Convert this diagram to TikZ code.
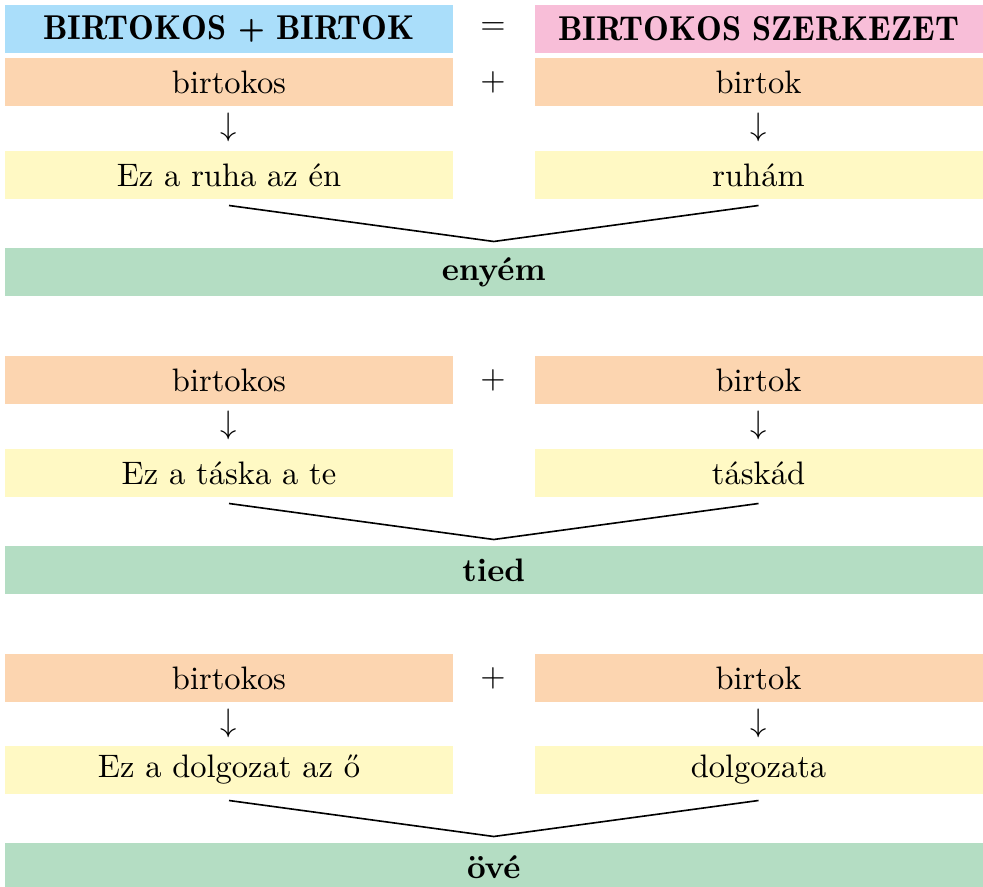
\documentclass[tikz,border=0pt]{standalone}
\usepackage{xcolor}

\definecolor{fejkek}{RGB}{170,222,250}
\definecolor{fejrozsa}{RGB}{248,190,216}
\definecolor{narancs}{RGB}{252,213,176}
\definecolor{sarga}{RGB}{255,249,196}
\definecolor{zold}{RGB}{180,221,195}

\begin{document}
\begin{tikzpicture}[x=0.3077pt, y=-0.3077pt,
    doboz/.style={minimum width=137.85pt, minimum height=14.77pt, inner sep=0pt, outer sep=2pt},
    fej/.style={doboz, font=\fontsize{10.6}{12}\fontseries{b}\selectfont},
    szeles/.style={doboz, minimum width=300.8pt, fill=zold, font=\bfseries}]

    \useasboundingbox (0,0) rectangle (983,887);

    % --- Fejlec ---
    \node[fej, fill=fejkek] (fejbal) at (229,29) {BIRTOKOS + BIRTOK};
    \node (egyenlo) at (493,29) {$=$};
    \node[fej, fill=fejrozsa] (fejjobb) at (758.5,29) {BIRTOKOS SZERKEZET};

    % --- Elso sor: enyem ---
    \node[doboz, fill=narancs] (birtokos1) at (229,82) {birtokos};
    \node (plusz1) at (493,82) {$+$};
    \node[doboz, fill=narancs] (birtok1) at (758.5,82) {birtok};
    \node (nyilbal1) at (229,127) {$\downarrow$};
    \node (nyiljobb1) at (758.5,127) {$\downarrow$};
    \node[doboz, fill=sarga] (peldabal1) at (229,175) {Ez a ruha az én};
    \node[doboz, fill=sarga] (peldajobb1) at (758.5,175) {ruhám};
    \node[szeles] (eredmeny1) at (493.75,272) {enyém};
    \draw[line width=0.5pt] (peldabal1.south) -- (eredmeny1.north) -- (peldajobb1.south);

    % --- Masodik sor: tied ---
    \node[doboz, fill=narancs] (birtokos2) at (229,380) {birtokos};
    \node (plusz2) at (493,380) {$+$};
    \node[doboz, fill=narancs] (birtok2) at (758.5,380) {birtok};
    \node (nyilbal2) at (229,425) {$\downarrow$};
    \node (nyiljobb2) at (758.5,425) {$\downarrow$};
    \node[doboz, fill=sarga] (peldabal2) at (229,473) {Ez a táska a te};
    \node[doboz, fill=sarga] (peldajobb2) at (758.5,473) {táskád};
    \node[szeles] (eredmeny2) at (493.75,570) {tied};
    \draw[line width=0.5pt] (peldabal2.south) -- (eredmeny2.north) -- (peldajobb2.south);

    % --- Harmadik sor: ove ---
    \node[doboz, fill=narancs] (birtokos3) at (229,678) {birtokos};
    \node (plusz3) at (493,678) {$+$};
    \node[doboz, fill=narancs] (birtok3) at (758.5,678) {birtok};
    \node (nyilbal3) at (229,723) {$\downarrow$};
    \node (nyiljobb3) at (758.5,723) {$\downarrow$};
    \node[doboz, fill=sarga] (peldabal3) at (229,770) {Ez a dolgozat az ő};
    \node[doboz, fill=sarga] (peldajobb3) at (758.5,770) {dolgozata};
    \node[szeles] (eredmeny3) at (493.75,867) {övé};
    \draw[line width=0.5pt] (peldabal3.south) -- (eredmeny3.north) -- (peldajobb3.south);

\end{tikzpicture}
\end{document}
